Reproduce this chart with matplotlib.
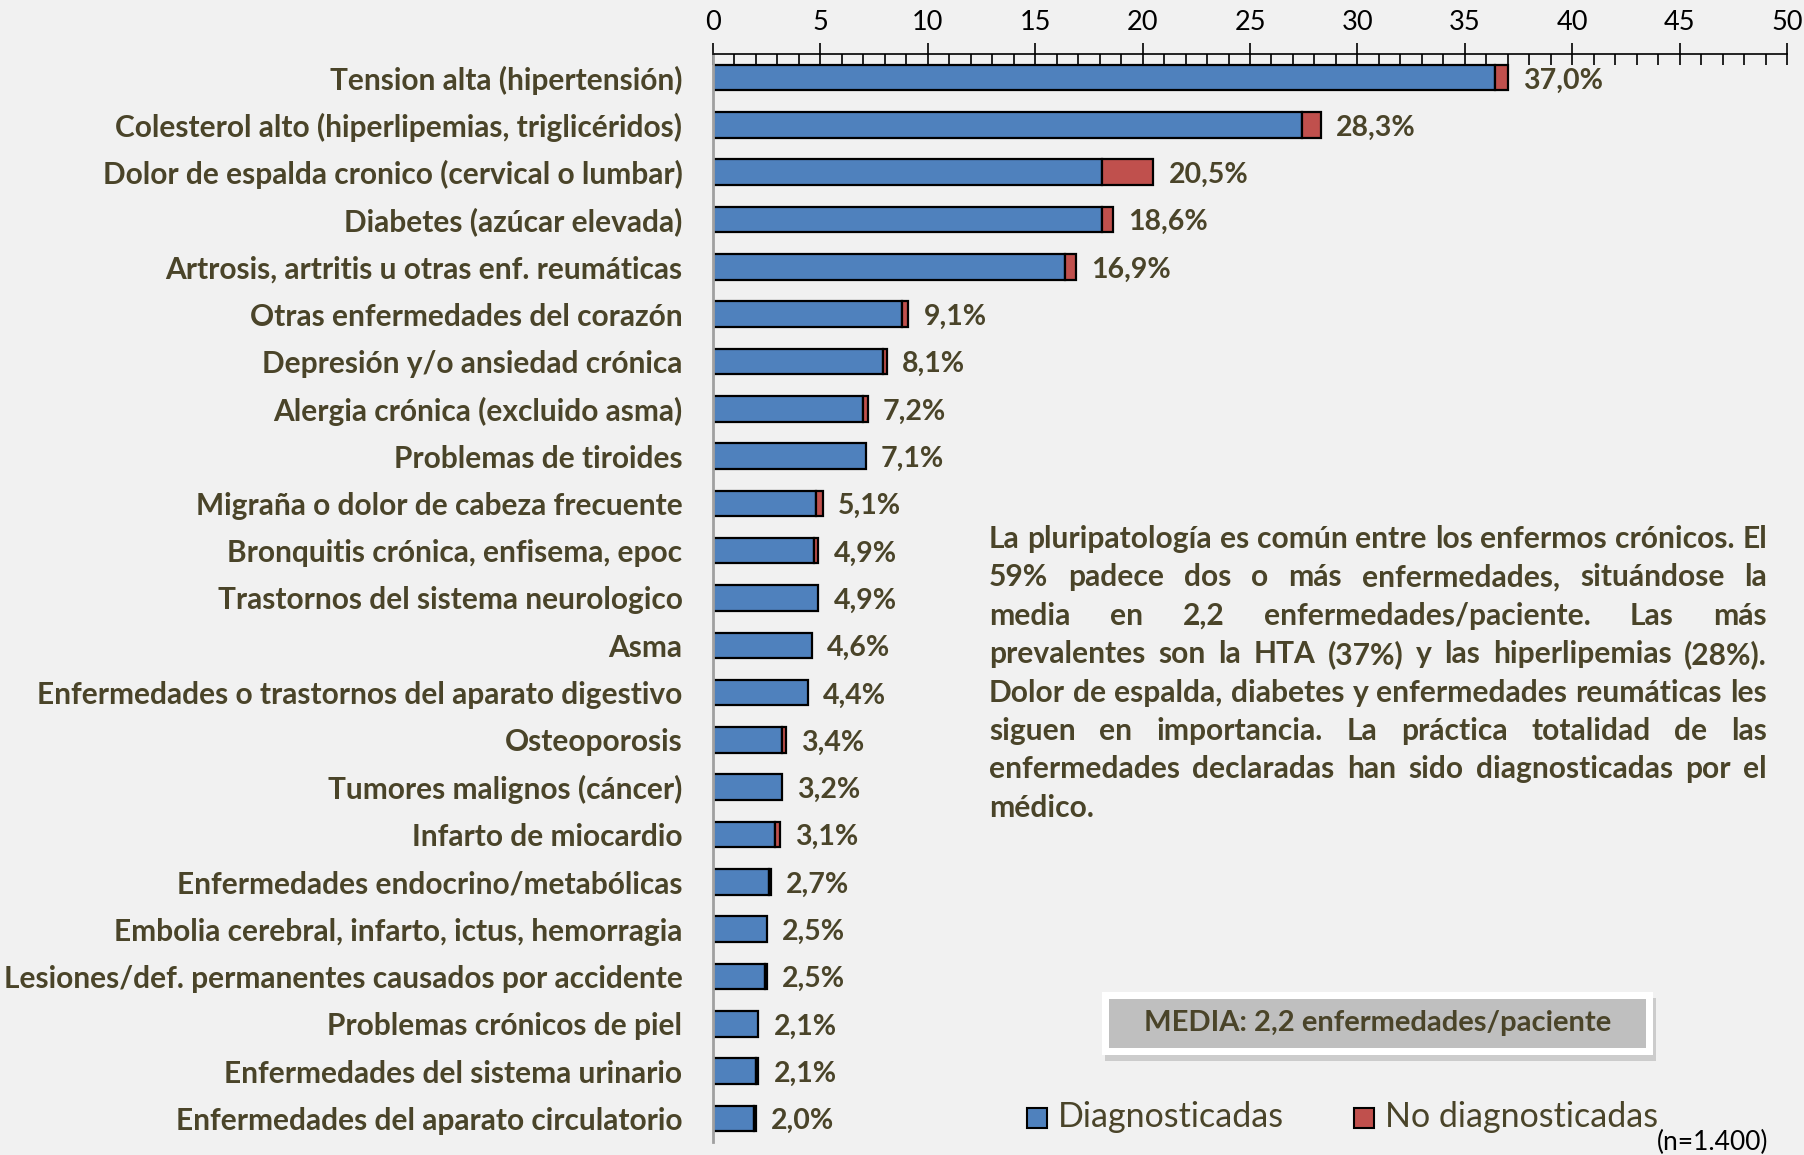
import matplotlib.pyplot as plt
from matplotlib.patches import Rectangle
import numpy as np

# data (% of patients)
categories = [
    "Tension alta (hipertensión)",
    "Colesterol alto (hiperlipemias, triglicéridos)",
    "Dolor de espalda cronico (cervical o lumbar)",
    "Diabetes (azúcar elevada)",
    "Artrosis, artritis u otras enf. reumáticas",
    "Otras enfermedades del corazón",
    "Depresión y/o ansiedad crónica",
    "Alergia crónica (excluido asma)",
    "Problemas de tiroides",
    "Migraña o dolor de cabeza frecuente",
    "Bronquitis crónica, enfisema, epoc",
    "Trastornos del sistema neurologico",
    "Asma",
    "Enfermedades o trastornos del aparato digestivo",
    "Osteoporosis",
    "Tumores malignos (cáncer)",
    "Infarto de miocardio",
    "Enfermedades endocrino/metabólicas",
    "Embolia cerebral, infarto, ictus, hemorragia",
    "Lesiones/def. permanentes causados por accidente",
    "Problemas crónicos de piel",
    "Enfermedades del sistema urinario",
    "Enfermedades del aparato circulatorio",
]
diagnosed = [36.4, 27.4, 18.1, 18.1, 16.4, 8.8, 7.9, 7.0, 7.1, 4.8, 4.7, 4.9,
             4.6, 4.4, 3.2, 3.2, 2.9, 2.6, 2.5, 2.4, 2.1, 2.0, 1.9]
undiagnosed = [0.6, 0.9, 2.4, 0.5, 0.5, 0.3, 0.2, 0.2, 0.0, 0.3, 0.2, 0.0,
               0.0, 0.0, 0.2, 0.0, 0.2, 0.1, 0.0, 0.1, 0.0, 0.1, 0.1]
totals = ["37,0%", "28,3%", "20,5%", "18,6%", "16,9%", "9,1%", "8,1%", "7,2%",
          "7,1%", "5,1%", "4,9%", "4,9%", "4,6%", "4,4%", "3,4%", "3,2%",
          "3,1%", "2,7%", "2,5%", "2,5%", "2,1%", "2,1%", "2,0%"]

paragraph = [
    "La pluripatología es común entre los enfermos crónicos. El",
    "59% padece dos o más enfermedades, situándose la",
    "media en 2,2 enfermedades/paciente. Las más",
    "prevalentes son la HTA (37%) y las hiperlipemias (28%).",
    "Dolor de espalda, diabetes y enfermedades reumáticas les",
    "siguen en importancia. La práctica totalidad de las",
    "enfermedades declaradas han sido diagnosticadas por el",
    "médico.",
]

BG = "#f1f1f1"
BLUE = "#4f81bd"
RED = "#c0504d"
OLIVE = "#4a4429"
FONT = "Lato"

W, H = 1804, 1155
plt.rcParams["font.family"] = [FONT, "DejaVu Sans"]

fig = plt.figure(figsize=(W / 100, H / 100), dpi=100, facecolor=BG)
ax = fig.add_axes([713 / W, 1 - 1142 / H, (1787 - 713) / W, (1142 - 54) / H])
ax.set_facecolor(BG)


def fx(x):
    return x / W


def fy(y):
    return 1 - y / H


y = np.arange(len(categories))
diag = np.array(diagnosed)
undiag = np.array(undiagnosed)

ax.barh(y, diag, height=0.54, color=BLUE, edgecolor="black", linewidth=1.6)
red_edges = ["black" if v > 0 else "none" for v in undiag]
ax.barh(y, undiag, left=diag, height=0.54, color=RED, edgecolor=red_edges,
        linewidth=1.6)

for yi, d, u, lab in zip(y, diag, undiag, totals):
    ax.annotate(lab, (d + u, yi), xytext=(11, -2), textcoords="offset points",
                ha="left", va="center", fontsize=20.5, fontweight="bold",
                color=OLIVE)

ax.set_xlim(0, 50)
ax.set_ylim(len(categories) - 0.5, -0.5)
ax.xaxis.tick_top()
ax.set_xticks(np.arange(0, 51, 5))
ax.set_xticks(np.arange(0, 51, 1), minor=True)
ax.tick_params(axis="x", which="major", direction="inout", length=16,
               width=1.2, labelsize=19.5, pad=6, colors="black")
ax.tick_params(axis="x", which="minor", direction="in", length=8, width=1.2)
ax.set_yticks(y)
ax.set_yticklabels(categories, fontsize=21.5, fontweight="bold", color=OLIVE)
ax.tick_params(axis="y", length=0, pad=22)

for s in ["right", "bottom"]:
    ax.spines[s].set_visible(False)
ax.spines["top"].set_color("black")
ax.spines["top"].set_linewidth(1.2)
ax.spines["left"].set_color("#a0a0a0")
ax.spines["left"].set_linewidth(2)

# justified paragraph; font size fitted so the first line fills the column
renderer = fig.canvas.get_renderer()
x0, x1 = 989, 1767
y0, dy = 539, 38.4
probe = fig.text(0, 0, paragraph[0], fontsize=20, fontweight="bold")
psize = 20 * (x1 - x0) / probe.get_window_extent(renderer).width * 0.995
probe.remove()

sp = fig.text(0, 0, "a a", fontsize=psize, fontweight="bold")
sp2 = fig.text(0, 0, "aa", fontsize=psize, fontweight="bold")
space_w = sp.get_window_extent(renderer).width - sp2.get_window_extent(renderer).width
sp.remove()
sp2.remove()

for i, line in enumerate(paragraph):
    words = line.split()
    yy = fy(y0 + i * dy)
    objs = [fig.text(0, yy, w, fontsize=psize, fontweight="bold", color=OLIVE,
                     va="center", ha="left") for w in words]
    widths = [t.get_window_extent(renderer).width for t in objs]
    if i < len(paragraph) - 1 and len(words) > 1:
        gap = (x1 - x0 - sum(widths)) / (len(words) - 1)
    else:
        gap = space_w
    cx = x0
    for t, wdt in zip(objs, widths):
        t.set_x(fx(cx))
        cx += wdt + gap

# MEDIA box with shadow
bx0, bx1, by0, by1 = 1102, 1653, 992, 1055
fig.patches.append(Rectangle((fx(bx0 + 3), fy(by1 + 6)), fx(bx1 - bx0), (by1 - by0) / H,
                             transform=fig.transFigure, facecolor="#a8a8a8",
                             edgecolor="none", alpha=0.5, zorder=1))
fig.patches.append(Rectangle((fx(bx0), fy(by1)), fx(bx1 - bx0), (by1 - by0) / H,
                             transform=fig.transFigure, facecolor="white",
                             edgecolor="none", zorder=2))
fig.patches.append(Rectangle((fx(bx0 + 7), fy(by1 - 7)), fx(bx1 - bx0 - 14),
                             (by1 - by0 - 14) / H, transform=fig.transFigure,
                             facecolor="#bfbfbf", edgecolor="none", zorder=3))
fig.text(fx((bx0 + bx1) / 2), fy((by0 + by1) / 2), "MEDIA: 2,2 enfermedades/paciente",
         ha="center", va="center", fontsize=21, fontweight="bold", color=OLIVE,
         zorder=4)

# legend
for sx, col, lab in [(1027, BLUE, "Diagnosticadas"), (1354, RED, "No diagnosticadas")]:
    fig.patches.append(Rectangle((fx(sx), fy(1128)), fx(20), 20 / H,
                                 transform=fig.transFigure, facecolor=col,
                                 edgecolor="black", linewidth=1.5))
    fig.text(fx(sx + 31), fy(1117), lab, ha="left", va="center", fontsize=24.5,
             color=OLIVE)

fig.text(fx(1768), fy(1142), "(n=1.400)", ha="right", va="center", fontsize=19,
         color="black")

fig.savefig("out.png", dpi=100, facecolor=BG)
